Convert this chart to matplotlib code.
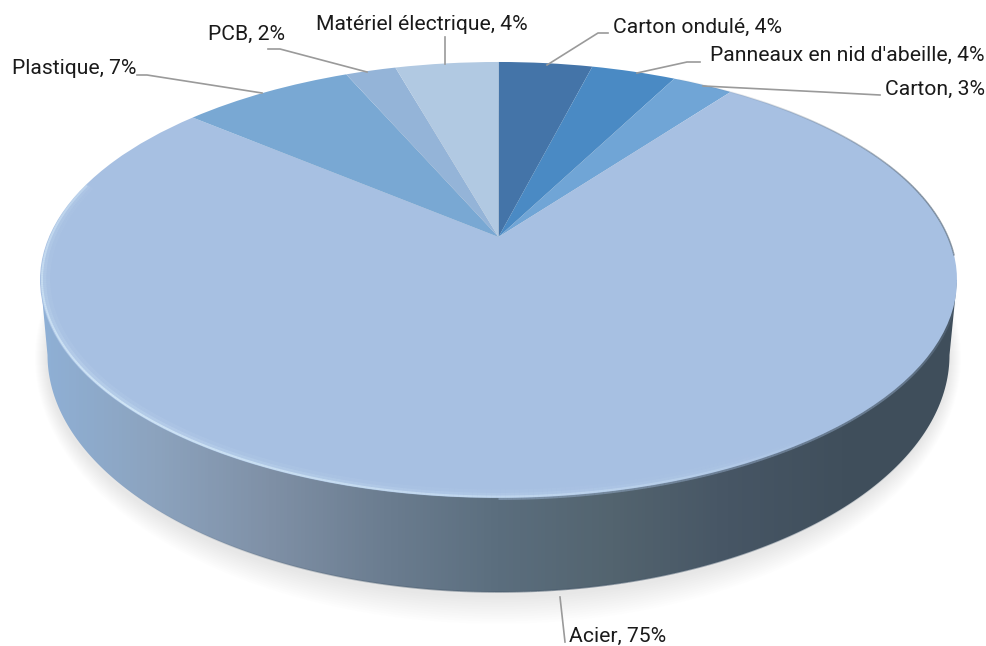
import numpy as np
import matplotlib
matplotlib.use('Agg')
import matplotlib.pyplot as plt
from matplotlib.collections import LineCollection
from matplotlib.colors import LinearSegmentedColormap
from matplotlib.patches import Ellipse, Polygon
from matplotlib.transforms import Transform

names = ['Carton ondulé', "Panneaux en nid d'abeille", 'Carton', 'Acier',
         'Plastique', 'PCB', 'Matériel électrique']
labels_pct = [4, 4, 3, 75, 7, 2, 4]
# slice sizes as they are actually drawn in the picture
shares = [4.0, 3.6, 2.6, 75.9, 7.35, 2.15, 4.4]
colors = ['#4474a8', '#4a8ac4', '#70a5d6', '#a7c0e2', '#79a8d3', '#94b4d8', '#b1c9e2']

label_x = [613, 710, 885, 569, 12, 208, 316]
label_y = [27, 55, 89, 636, 68, 34, 25]
leaders = [[(608, 33), (598, 33), (547, 65)],
           [(700, 62), (687, 62), (637, 73)],
           [(880, 95), (823, 92), (703, 86)],
           [(560, 597), (565, 642)],
           [(137, 75), (147, 75), (262, 93)],
           [(268, 49), (280, 49), (367, 72)],
           [(445, 37), (445, 64)]]

wall_stops = ['#8fb0d6', '#8ca3be', '#7f90a6', '#6b7d90', '#5b6e7e', '#53646f', '#475665', '#404f5c', '#3f4e5b']

APEX_X, APEX_Y = 498.5, 237
K, A, B = 0.197, 209.5, 449.5


class Perspective(Transform):
    # tilts the flat unit pie into the picture's view
    input_dims = 2
    output_dims = 2

    def transform_non_affine(self, values):
        v = np.asarray(values, dtype=float)
        w = 1 + K * v[:, 1]
        return np.column_stack([APEX_X + B * v[:, 0] / w, APEX_Y - A * v[:, 1] / w])


persp = Perspective()


def rim(theta_deg, r=1.0):
    t = np.radians(theta_deg)
    return persp.transform_non_affine(np.column_stack([r * np.cos(t), r * np.sin(t)]))


def fading_line(ax, pts, alpha, color, lw, z=6):
    segs = np.stack([pts[:-1], pts[1:]], axis=1)
    rgba = np.tile(matplotlib.colors.to_rgba(color), (len(segs), 1))
    rgba[:, 3] = alpha[:-1]
    ax.add_collection(LineCollection(segs, colors=rgba, linewidths=lw, zorder=z, capstyle='butt'))


plt.rcParams['font.family'] = ['Roboto', 'DejaVu Sans']
fig = plt.figure(figsize=(9.87, 6.46), dpi=100)
ax = fig.add_axes([0, 0, 1, 1])

# soft shadow under the disc
for k in range(1, 13):
    ax.add_patch(Ellipse((498, 358), 2 * (451 + k * 1.0), 2 * (237 + k * 2.4),
                         color='#808080', alpha=0.012, lw=0, zorder=1))

# side wall, gradient clipped to the lower outline
t_deg = np.linspace(180, 360, 200)
t = np.radians(t_deg)
low_x = 498.5 + 451 * np.cos(t)
low_y = 355 - 237 * np.sin(t)
wall_xy = np.column_stack([np.r_[40.5, low_x, 957], np.r_[280, low_y, 280]])
wall_poly = Polygon(wall_xy, transform=ax.transData, fc='none', ec='none')
ax.add_patch(wall_poly)
cmap = LinearSegmentedColormap.from_list('wall', wall_stops)
im = ax.imshow(np.linspace(0, 1, 256)[None, :], cmap=cmap, aspect='auto',
               extent=(40, 957, 600, 270), zorder=2)
im.set_clip_path(wall_poly)
# darker foot of the wall, strongest around the bottom
foot = 0.6 * np.clip(1 - np.abs(t_deg - 280) / 65, 0, 1)
fading_line(ax, np.column_stack([low_x, low_y]), foot, '#45586a', 1.2, z=3)

# top face
wedges, _ = ax.pie(shares, colors=colors, startangle=90, counterclock=False,
                   wedgeprops={'linewidth': 0})
for w in wedges:
    w.set_transform(persp + ax.transData)
    w.set_zorder(5)

# soft lower edge between face and wall
theta = np.linspace(270, 345, 160)
fading_line(ax, rim(theta), 0.4 * np.clip((345 - theta) / 25, 0, 1), '#a7c0e2', 3.0, z=4.5)

# light bevel on the lower left edge
theta = np.linspace(165, 310, 300)
bump = np.clip(1 - np.abs(theta - 222) / 85, 0, 1) ** 0.7
fading_line(ax, rim(theta, 0.988), 0.10 * bump, '#d4eafa', 6.5)
fading_line(ax, rim(theta, 0.992), 0.22 * bump, '#d4eafa', 3.5)
fading_line(ax, rim(theta, 0.996), 0.70 * bump, '#dcf0fc', 1.5)

# thin grey edge on the upper right
theta = np.linspace(-5, 62, 120)
fade = np.clip((62 - theta) / 50, 0.1, 1)
fading_line(ax, rim(theta), 0.7 * fade, '#5e6e7e', 1.1)

ax.set_xlim(0, 987)
ax.set_ylim(646, 0)
ax.set_aspect('auto')
ax.axis('off')

for pts in leaders:
    xs, ys = zip(*pts)
    ax.plot(xs, ys, color='#9a9a9a', lw=1.2, zorder=7, solid_joinstyle='round')

for name, pct, x, y in zip(names, labels_pct, label_x, label_y):
    ax.text(x, y, f'{name}, {pct}%', fontsize=15.2, color='#1a1a1a', ha='left', va='center', zorder=8)

fig.savefig('out.png', dpi=100)
